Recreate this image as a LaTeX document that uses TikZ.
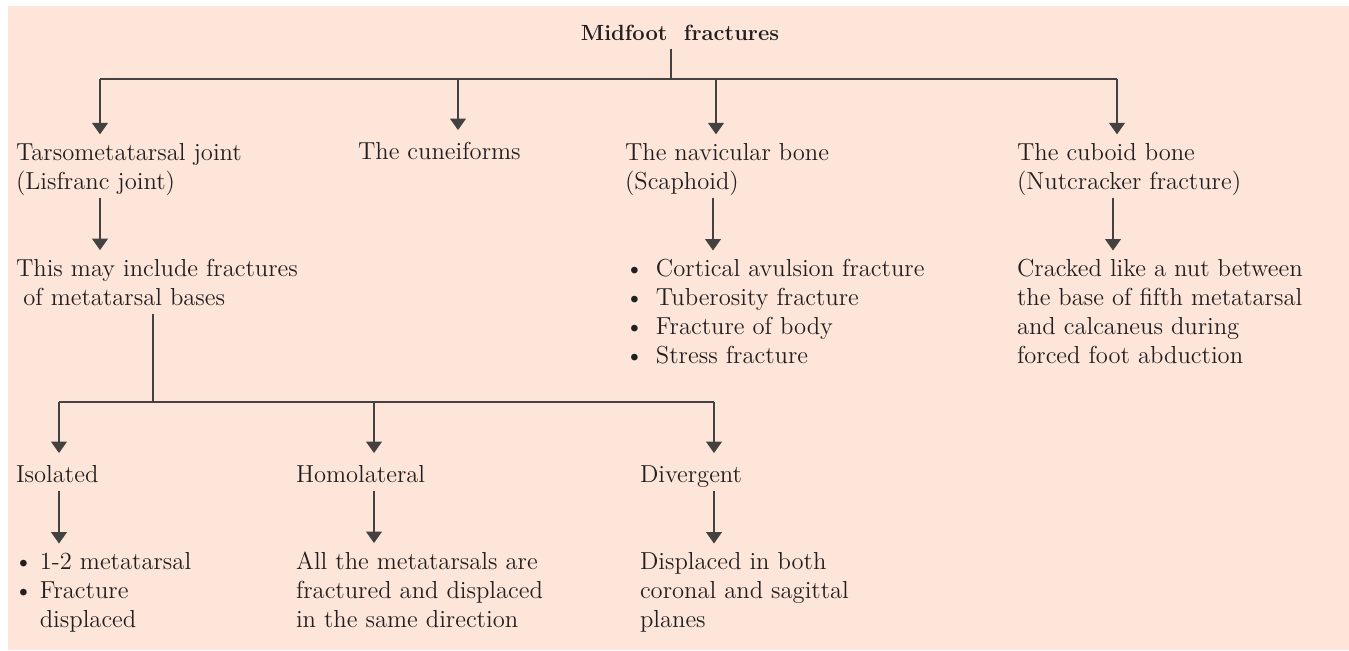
\documentclass[tikz,border=0pt]{standalone}
\usetikzlibrary{arrows.meta}

\definecolor{peach}{HTML}{FDE5DA}
\definecolor{ink}{HTML}{231F20}
\tikzset{
  lbl/.style={inner sep=0pt,outer sep=0pt,anchor=base west,align=left,
    text=ink,font=\fontsize{14}{16.4}\selectfont,
    execute at begin node=\strut,execute at end node=\strut},
  conn/.style={draw=ink!85,line width=0.75pt},
  arr/.style={conn,-{Triangle[width=9pt,length=6.5pt]},shorten >=5pt}
}
\newcommand\bul[1]{\makebox[#1][l]{\textbullet}}

\begin{document}
\begin{tikzpicture}[x=0.02cm,y=-0.02cm]
  \fill[peach] (8,6) rectangle (1349,650);
  \useasboundingbox (0,0) rectangle (1349,650);
  % first level
  \node[lbl,anchor=base,font=\fontsize{12.5}{16.4}\selectfont\bfseries] (title) at (680,40) {Midfoot\ \ fractures};
  \coordinate (top) at (671,79);
  \coordinate (b1) at (100,79);
  \coordinate (b2) at (458,79);
  \coordinate (b3) at (716,79);
  \coordinate (b4) at (1117,79);
  \node[lbl] (tarso) at (16,189) {Tarsometatarsal joint\\(Lisfranc joint)};
  \node[lbl] (cune) at (358,159) {The cuneiforms};
  \node[lbl] (navi) at (625,189) {The navicular bone\\(Scaphoid)};
  \node[lbl] (cubo) at (1017,189) {The cuboid bone\\(Nutcracker fracture)};
  \draw[conn] (title.south -| top) -- (top);
  \draw[conn] (b1) -- (b4);
  \draw[arr] (b1) -- (b1 |- tarso.north);
  \draw[arr] (b2) -- (b2 |- cune.north);
  \draw[arr] (b3) -- (b3 |- navi.north);
  \draw[arr] (b4) -- (b4 |- cubo.north);
  % second level
  \coordinate (n1) at (713,0);
  \coordinate (n2) at (1113,0);
  \node[lbl] (incl) at (16,305) {This may include fractures\\\hspace{0.3em}of metatarsal bases};
  \node[lbl] (list) at (625,363) {\bul{1.26em}Cortical avulsion fracture\\
    \bul{1.26em}Tuberosity fracture\\\bul{1.26em}Fracture of body\\\bul{1.26em}Stress fracture};
  \node[lbl] (crack) at (1017,363) {Cracked like a nut between\\the base of fifth metatarsal\\
    and calcaneus during\\forced foot abduction};
  \draw[arr] (tarso.south -| b1) -- (incl.north -| b1);
  \draw[arr] (navi.south -| n1) -- (list.north -| n1);
  \draw[arr] (cubo.south -| n2) -- (crack.north -| n2);
  % third level
  \coordinate (j1) at (153,402);
  \coordinate (c1) at (59,402);
  \coordinate (c2) at (374,402);
  \coordinate (c3) at (714,402);
  \node[lbl] (isol) at (16,482) {Isolated};
  \node[lbl] (homo) at (296,482) {Homolateral};
  \node[lbl] (dive) at (640,482) {Divergent};
  \draw[conn] (incl.south -| j1) -- (j1);
  \draw[conn] (c1) -- (c3);
  \draw[arr] (c1) -- (c1 |- isol.north);
  \draw[arr] (c2) -- (c2 |- homo.north);
  \draw[arr] (c3) -- (c3 |- dive.north);
  % bottom
  \node[lbl] (meta) at (14,627) {\bul{1.05em}1-2 metatarsal\\\bul{1.05em}Fracture\\
    \hspace*{1.05em}displaced};
  \node[lbl] (allm) at (296,627) {All the metatarsals are\\fractured and displaced\\in the same direction};
  \node[lbl] (disp) at (640,627) {Displaced in both\\coronal and sagittal\\planes};
  \draw[arr] (isol.south -| c1) -- (meta.north -| c1);
  \draw[arr] (homo.south -| c2) -- (allm.north -| c2);
  \draw[arr] (dive.south -| c3) -- (disp.north -| c3);
\end{tikzpicture}
\end{document}
